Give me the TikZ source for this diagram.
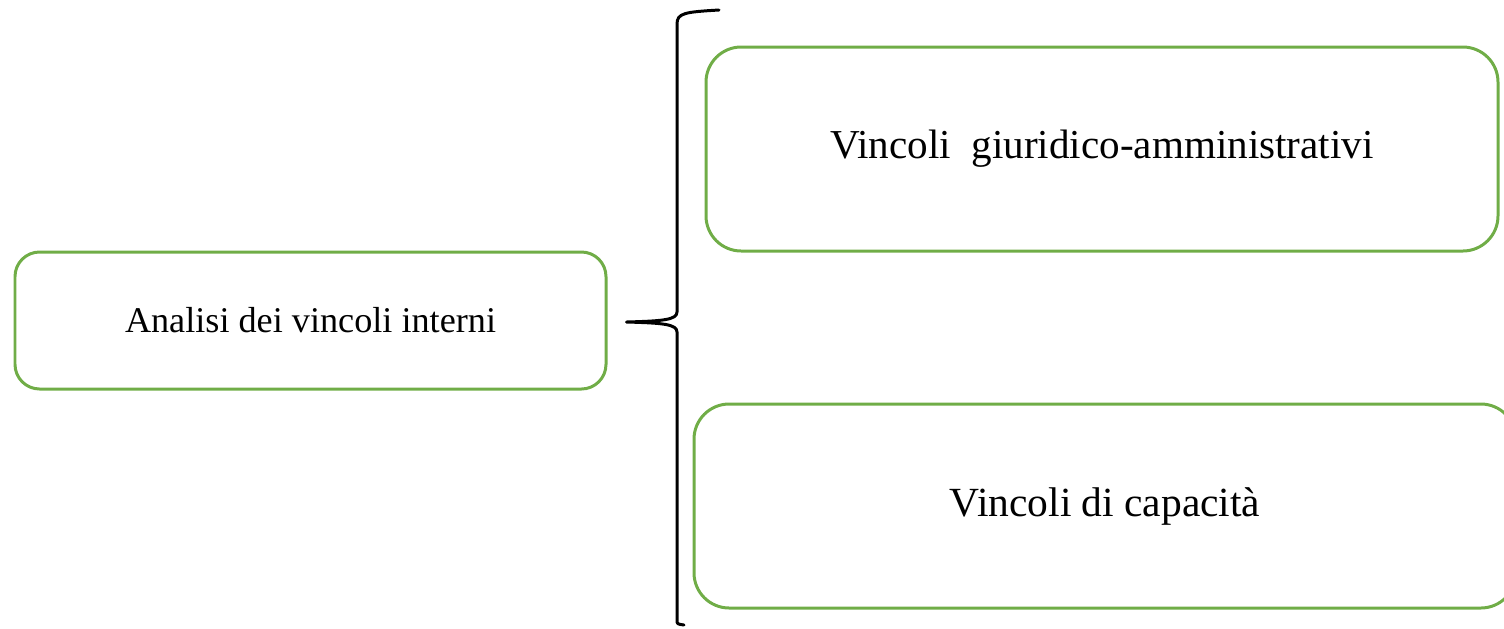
\documentclass[tikz,border=0pt]{standalone}
\usepackage{fontspec}
\setmainfont{Liberation Serif}
\usetikzlibrary{positioning, calc}
\definecolor{boxgreen}{RGB}{112,173,71}
\tikzset{
    greenbox/.style={draw=boxgreen, line width=0.85pt, rounded corners=10pt, align=center, inner sep=0pt},
    brace/.style={line width=0.85pt, line cap=round, line join=round}
}

\begin{document}
\begin{tikzpicture}
    \useasboundingbox (0,0) rectangle (15.04,6.28);
    % Main box
    \node[greenbox, minimum width=5.91cm, minimum height=1.37cm, rounded corners=7pt, font=\fontsize{10.3}{12}\selectfont] (analisi) at (3.105,3.075) {Analisi dei vincoli interni};
    % Right boxes
    \node[greenbox, minimum width=7.92cm, minimum height=2.04cm, font=\fontsize{11.7}{14}\selectfont] (giuridici) at (11.02,4.79) {Vincoli\ \ giuridico-amministrativi};
    \node[greenbox, minimum width=8.22cm, minimum height=2.04cm, font=\fontsize{11.8}{14}\selectfont] (capacita) at (11.05,1.22) {Vincoli di capacità};
    % Brace
    \coordinate (tip) at ($(analisi.east)+(0.19,-0.015)$);
    \coordinate (top) at (7.19,6.18);
    \coordinate (bot) at (6.84,0.03);
    \draw[brace] (top) .. controls (6.85,6.16) and (6.77,6.15) .. (6.77,6.04)
        -- (6.77,3.16) .. controls (6.77,3.08) and (6.62,3.07) .. (tip)
        .. controls (6.62,3.05) and (6.77,3.04) .. (6.77,2.96)
        -- (6.77,0.08) .. controls (6.77,0.04) .. (bot);
\end{tikzpicture}
\end{document}
